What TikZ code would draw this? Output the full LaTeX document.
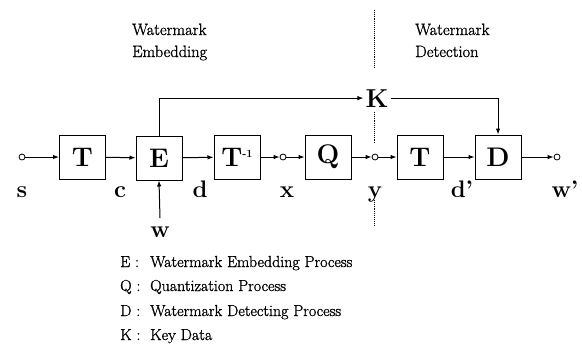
\documentclass[tikz,border=0pt]{standalone}
\usepackage{fontspec}
\usetikzlibrary{arrows.meta}
\newfontfamily\dkfont[FakeBold=1.2]{Latin Modern Roman}
\begin{document}
\begin{tikzpicture}[x=1bp,y=-1bp,
  blk/.style={draw,line width=1bp,minimum width=46bp,minimum height=44bp,inner sep=0pt,font=\fontsize{27}{27}\selectfont\bfseries},
  term/.style={circle,draw,line width=0.8bp,minimum size=6bp,inner sep=0pt},
  lbl/.style={anchor=base,font=\fontsize{24}{24}\selectfont\bfseries,inner sep=0pt},
  hdr/.style={anchor=base west,font=\dkfont\fontsize{16.5}{16.5}\selectfont,inner sep=0pt},
  leg/.style={anchor=base west,font=\dkfont\fontsize{16}{16}\selectfont,inner sep=0pt},
  con/.style={line width=1bp,-{Latex[length=6bp,width=4.5bp]}},
  sep/.style={line width=0.9bp,densely dotted}]
\useasboundingbox (0,0) rectangle (582,347);
% terminals
\node[term] (s) at (22,157) {};
\node[term] (xo) at (283,157) {};
\node[term] (yo) at (375,157) {};
\node[term] (wo) at (557,157) {};
% blocks
\node[blk] (T1) at (82.5,157) {T};
\node[blk] (E) at (159,158) {E};
\node[blk] (Ti) at (237,157) {T\raisebox{9bp}{\fontsize{11}{11}\selectfont -1}};
\node[blk] (Q) at (328,157) {Q};
\node[blk] (T2) at (420,157) {T};
\node[blk] (D) at (498,157) {D};
% labels
\node[lbl] at (22,197) {s};
\node[lbl] at (120,197) {c};
\node[lbl] at (200,197) {d};
\node[lbl] at (287,197) {x};
\node[lbl] at (375,197) {y};
\node[lbl] at (462,197) {d'};
\node[lbl] at (565,197) {w'};
\node[lbl] (w) at (160,237) {w};
\coordinate (wt) at (160,218);
\node[anchor=base,font=\fontsize{26}{26}\selectfont\bfseries,inner sep=2pt] (K) at (377,107) {K};
% connectors
\draw[con] (s) -- (T1);
\draw[con] (T1) -- (E);
\draw[con] (E) -- (Ti);
\draw[con] (Ti) -- (xo);
\draw[con] (xo) -- (Q);
\draw[con] (Q) -- (yo);
\draw[con] (yo) -- (T2);
\draw[con] (T2) -- (D);
\draw[con] (D) -- (wo);
\draw[con] (wt) -- (E.south);
\draw[con] (E.north) |- (K.west);
\draw[con] (K.east) -| (D.north);
% separator
\draw[sep] (374,10) -- (374,68);
\draw[sep] (374,112) -- (374,143);
\draw[sep] (374,200) -- (374,225);
% headers
\node[hdr] at (132,35) {Watermark};
\node[hdr] at (132,57) {Embedding};
\node[hdr] at (415,35) {Watermark};
\node[hdr] at (415,57) {Detection};
% legend
\node[leg] at (120,267) {E :};
\node[leg] at (150,267) {Watermark Embedding Process};
\node[leg] at (120,291) {Q :};
\node[leg] at (150,291) {Quantization Process};
\node[leg] at (120,316) {D :};
\node[leg] at (150,316) {Watermark Detecting Process};
\node[leg] at (120,340) {K :};
\node[leg] at (150,340) {Key Data};
\end{tikzpicture}
\end{document}
